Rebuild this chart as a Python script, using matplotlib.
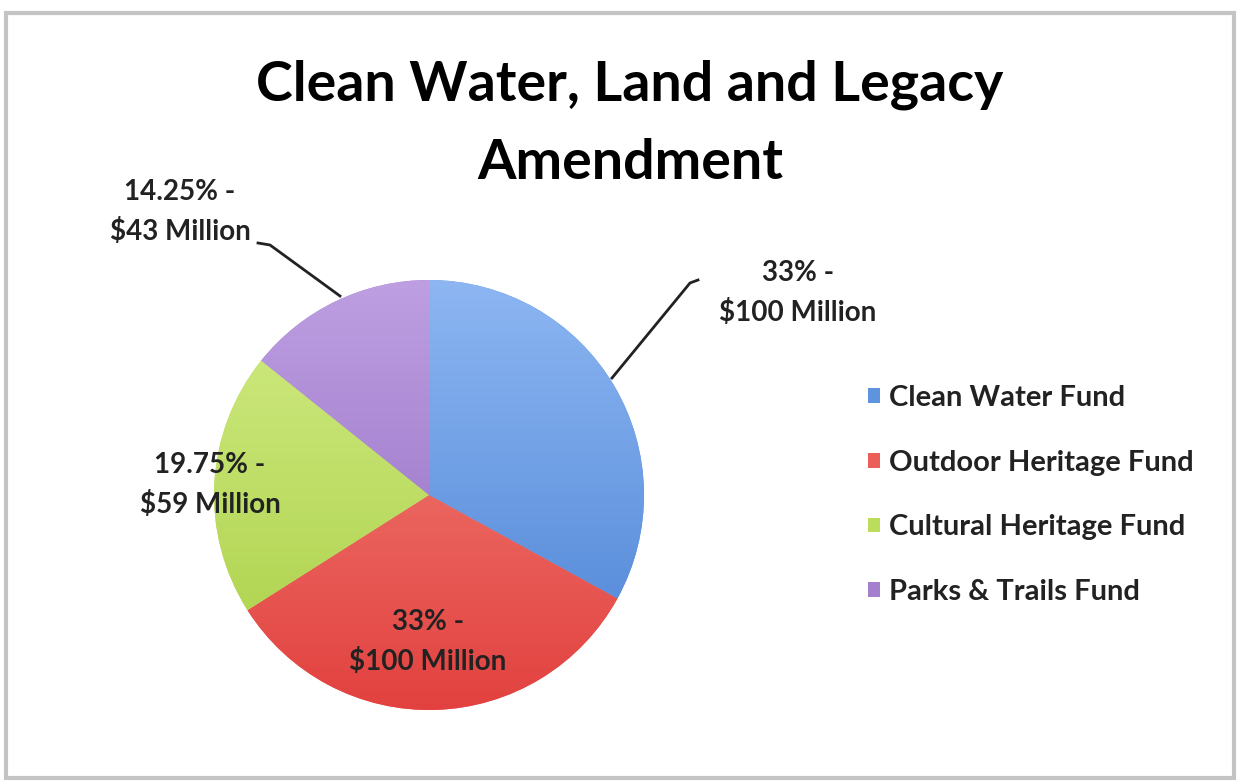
import matplotlib.pyplot as plt
import numpy as np
from matplotlib.patches import Rectangle
from matplotlib.colors import LinearSegmentedColormap

plt.rcParams['font.family'] = ['Lato', 'DejaVu Sans']

funds = ['Clean Water Fund', 'Outdoor Heritage Fund', 'Cultural Heritage Fund', 'Parks & Trails Fund']
shares = [33, 33, 19.75, 14.25]
labels = ['33% -\n$100 Million', '33% -\n$100 Million', '19.75% -\n$59 Million', '14.25% -\n$43 Million']
light = ['#8DB6F2', '#F48A80', '#D2EC86', '#BE9FE2']
dark = ['#4A82D4', '#E2413F', '#A9CF45', '#8D66BE']
mid = ['#5E93DD', '#EC5E58', '#BCDC5C', '#A47FCE']

fig = plt.figure(figsize=(12.38, 7.82), dpi=100)
W, H = 1238, 782

# outer frame like the screenshot
fig.patches.append(Rectangle((6 / W, 4 / H), 1228 / W, 765 / H, transform=fig.transFigure,
                             fill=False, edgecolor='#c4c4c4', linewidth=3))

cx, cy, r = 429, 495, 215
ax = fig.add_axes([(cx - r) / W, (H - cy - r) / H, 2 * r / W, 2 * r / H])
wedges, _ = ax.pie(shares, colors=mid, startangle=90, counterclock=False, radius=1,
                   wedgeprops=dict(linewidth=0))
ax.set_xlim(-1, 1)
ax.set_ylim(-1, 1)
ax.set_aspect('equal')
ax.axis('off')

# vertical gradient inside each slice
grad = np.linspace(0, 1, 256).reshape(-1, 1)
for w, lo, hi in zip(wedges, light, dark):
    cmap = LinearSegmentedColormap.from_list('g', [hi, lo])
    im = ax.imshow(grad, cmap=cmap, extent=[-1, 1, -1, 1], origin='lower', aspect='auto', zorder=1)
    im.set_clip_path(w)

fig.text(630 / W, 1 - 85 / H, 'Clean Water, Land and Legacy', ha='center', va='center',
         fontsize=40, fontweight='bold')
fig.text(630 / W, 1 - 163 / H, 'Amendment', ha='center', va='center',
         fontsize=40, fontweight='bold')

lab_pos = [(798, 293), (428, 642), (210, 485), (180, 212)]
for txt, (x, y) in zip(labels, lab_pos):
    fig.text(x / W, 1 - y / H, txt, ha='center', va='center', fontsize=20,
             fontweight='bold', color='#222222', linespacing=1.55)

# leader lines
def px(x, y):
    return x / W, 1 - y / H

for pts in [[(612, 378), (690, 283), (698, 280)], [(258, 243), (270, 245), (340, 296)]]:
    xs, ys = zip(*[px(*p) for p in pts])
    fig.add_artist(plt.Line2D(xs, ys, color='#222222', linewidth=2, transform=fig.transFigure))

leg = fig.legend(wedges, funds, loc='center left', bbox_to_anchor=(842 / W, 1 - 495 / H),
                 frameon=False, fontsize=21, handlelength=0.4, handleheight=0.4,
                 handletextpad=0.3, labelspacing=1.33)
for t in leg.get_texts():
    t.set_color('#222222')
    t.set_fontweight('bold')

fig.savefig('out.png', dpi=100, facecolor='white')
